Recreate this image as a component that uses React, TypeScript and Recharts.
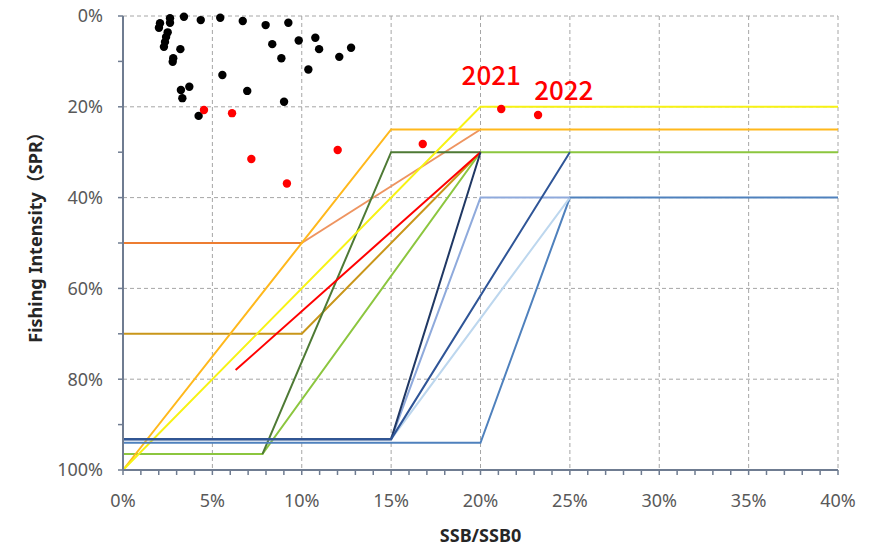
import React from 'react';
import { ComposedChart, Line, Scatter, XAxis, YAxis, CartesianGrid } from 'recharts';

// ---- axes ----
const xMajorTicks = [0, 5, 10, 15, 20, 25, 30, 35, 40];
const xAllTicks = Array.from({ length: 41 }, (_, i) => i);
const yMajorTicks = [0, 20, 40, 60, 80, 100];
const yAllTicks = [0, 10, 20, 30, 40, 50, 60, 70, 80, 90, 100];

// ---- harvest control rules (x = SSB/SSB0 %, y = SPR %) ----
const orangeRule = [{ x: 0, y: 50 }, { x: 10, y: 50 }, { x: 20, y: 25 }];
const goldRule = [{ x: 0, y: 100 }, { x: 15, y: 25 }, { x: 40, y: 25 }];
const yellowRule = [{ x: 0, y: 100 }, { x: 20, y: 20 }, { x: 40, y: 20 }];
const brownRule = [{ x: 0, y: 70 }, { x: 10, y: 70 }, { x: 20, y: 30 }];
const redRule = [{ x: 6.3, y: 78 }, { x: 20, y: 30 }];
const darkGreenRule = [{ x: 7.8, y: 96.5 }, { x: 15, y: 30 }, { x: 20, y: 30 }];
const lightGreenRule = [{ x: 0, y: 96.5 }, { x: 7.8, y: 96.5 }, { x: 20, y: 30 }, { x: 40, y: 30 }];
const paleBlueRule = [{ x: 0, y: 93.2 }, { x: 15, y: 93.2 }, { x: 25, y: 40 }];
const lightBlueRule = [{ x: 0, y: 93.2 }, { x: 15, y: 93.2 }, { x: 20, y: 40 }, { x: 25, y: 40 }];
const navyRule = [{ x: 0, y: 93.2 }, { x: 15, y: 93.2 }, { x: 20, y: 30 }];
const midNavyRule = [{ x: 0, y: 93.2 }, { x: 15, y: 93.2 }, { x: 25, y: 30 }];
const steelBlueRule = [{ x: 0, y: 94 }, { x: 20, y: 94 }, { x: 25, y: 40 }, { x: 40, y: 40 }];

// ---- stock history ----
const pastYears = [
  { x: 2.07, y: 1.6 }, { x: 2.01, y: 2.6 }, { x: 2.63, y: 0.5 }, { x: 2.63, y: 1.5 },
  { x: 3.41, y: 0.15 }, { x: 4.35, y: 0.9 }, { x: 5.44, y: 0.4 }, { x: 6.7, y: 1.1 },
  { x: 7.98, y: 2.0 }, { x: 9.25, y: 1.5 }, { x: 2.5, y: 3.6 }, { x: 2.41, y: 4.6 },
  { x: 2.35, y: 5.7 }, { x: 2.29, y: 6.8 }, { x: 3.21, y: 7.3 }, { x: 2.81, y: 9.3 },
  { x: 2.78, y: 10.1 }, { x: 8.35, y: 6.2 }, { x: 9.83, y: 5.4 }, { x: 10.76, y: 4.8 },
  { x: 10.97, y: 7.3 }, { x: 12.76, y: 7.0 }, { x: 12.1, y: 9.0 }, { x: 8.86, y: 9.3 },
  { x: 10.37, y: 11.8 }, { x: 5.56, y: 13.0 }, { x: 3.71, y: 15.6 }, { x: 3.24, y: 16.3 },
  { x: 3.32, y: 18.1 }, { x: 6.95, y: 16.5 }, { x: 9.01, y: 18.9 }, { x: 4.23, y: 22.0 },
];
const recentYears = [
  { x: 4.53, y: 20.7 }, { x: 6.1, y: 21.4 }, { x: 7.18, y: 31.5 }, { x: 9.17, y: 36.9 },
  { x: 12.01, y: 29.5 }, { x: 16.77, y: 28.2 }, { x: 21.16, y: 20.5 }, { x: 23.22, y: 21.8 },
];
const yearLabels = [
  { x: 20.6, y: 15.2, text: '2021' },
  { x: 24.66, y: 18.5, text: '2022' },
];

const AXIS = '#6F7C91';
const TEXT = '#595959';
const FONT = '"Noto Sans", "Noto Sans CJK JP", sans-serif';

const XTick = (props: any) => {
  const { x, y, payload } = props;
  if (!xMajorTicks.includes(payload.value)) return null;
  return (
    <text x={x} y={y} dy="0.71em" textAnchor="middle" fill={TEXT} fontSize={18} fontFamily={FONT}>
      {payload.value}%
    </text>
  );
};

const YTick = (props: any) => {
  const { x, y, payload } = props;
  if (!yMajorTicks.includes(payload.value)) return null;
  return (
    <text x={x} y={y} dy="0.355em" textAnchor="end" fill={TEXT} fontSize={18} fontFamily={FONT}>
      {payload.value}%
    </text>
  );
};

const dot = (color: string) => (p: any) => <circle cx={p.cx} cy={p.cy} r={4.2} fill={color} />;

const yearText = (p: any) => (
  <text x={p.cx} y={p.cy} textAnchor="middle" fill="#FF0000" fontSize={26} fontWeight={500}
    fontFamily='"Noto Sans CJK JP", "Noto Sans", sans-serif'>
    {p.payload.text}
  </text>
);

const rule = (data: any[], color: string, w = 2) => (
  <Line data={data} dataKey="y" type="linear" stroke={color} strokeWidth={w} dot={false}
    activeDot={false} isAnimationActive={false} legendType="none" />
);

export default function App() {
  return (
    <div style={{ position: 'absolute', left: 0, top: 0 }}>
      <ComposedChart width={877} height={549} margin={{ top: 16, right: 39, bottom: 0, left: 0 }}>
        <CartesianGrid stroke="#A6A6A6" strokeDasharray="4 3" strokeWidth={1}
          verticalValues={xMajorTicks} horizontalValues={yMajorTicks} />
        <XAxis type="number" dataKey="x" domain={[0, 40]} ticks={xAllTicks} interval={0}
          height={79} tickSize={5} tickMargin={19} tick={<XTick />}
          axisLine={{ stroke: AXIS, strokeWidth: 2 }} tickLine={{ stroke: AXIS, strokeWidth: 1.5 }}
          label={{
            content: ({ viewBox }: any) => (
              <text x={viewBox.x + viewBox.width / 2} y={viewBox.y + 72} textAnchor="middle"
                fill="#262626" fontSize={18} fontWeight="bold" fontFamily={FONT}>SSB/SSB0</text>
            ),
          }} />
        <YAxis type="number" dataKey="y" domain={[0, 100]} reversed ticks={yAllTicks} interval={0}
          width={123} tickSize={5} tickMargin={15} tick={<YTick />}
          axisLine={{ stroke: AXIS, strokeWidth: 2 }} tickLine={{ stroke: AXIS, strokeWidth: 1.5 }}
          label={{
            content: ({ viewBox }: any) => {
              const cx = viewBox.x + 35;
              const cy = viewBox.y + viewBox.height / 2 - 10;
              return (
                <text x={cx} y={cy} transform={`rotate(-90 ${cx} ${cy})`} textAnchor="middle"
                  dominantBaseline="central" fill="#262626" fontSize={18} fontWeight="bold" fontFamily={FONT}>
                  Fishing Intensity（SPR）
                </text>
              );
            },
          }} />
        {rule(orangeRule.slice(0, 2), '#ED7D31')}
        {rule(orangeRule.slice(1), '#EE9460')}
        {rule(brownRule, '#C9961A')}
        {rule(lightGreenRule, '#8CC63F')}
        {rule(darkGreenRule, '#4E7A35')}
        {rule(redRule, '#FF0000')}
        {rule(goldRule, '#FFB81C')}
        {rule(yellowRule, '#F7F214')}
        {rule(steelBlueRule, '#4F81BD')}
        {rule(paleBlueRule, '#BDD7EE')}
        {rule(lightBlueRule, '#8FAADC')}
        {rule(navyRule, '#203864')}
        {rule(midNavyRule, '#2F5597')}
        <Scatter data={pastYears} shape={dot('#000000')} isAnimationActive={false} legendType="none" />
        <Scatter data={recentYears} shape={dot('#FF0000')} isAnimationActive={false} legendType="none" />
        <Scatter data={yearLabels} shape={yearText} isAnimationActive={false} legendType="none" />
      </ComposedChart>
    </div>
  );
}
